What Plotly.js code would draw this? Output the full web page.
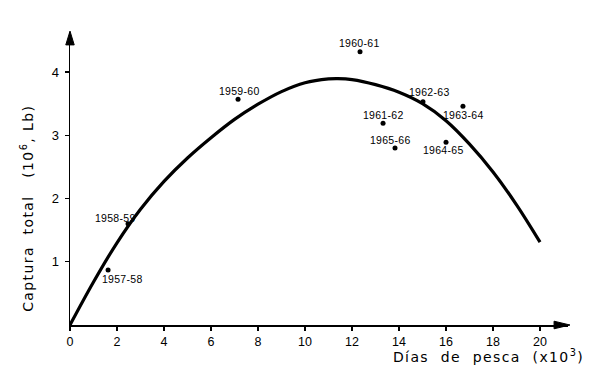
<!DOCTYPE html>
<html>
<head>
<meta charset="utf-8">
<script src="https://cdn.plot.ly/plotly-3.0.1.min.js"></script>
<style>
html,body{margin:0;padding:0;background:#fff;}
#chart{width:600px;height:381px;}
</style>
</head>
<body>
<div id="chart"></div>
<script>
// Observed seasons (fishing days x10^3, total catch 10^6 lb)
const seasons = ["1957-58","1958-59","1959-60","1960-61","1961-62","1962-63","1963-64","1964-65","1965-66"];
const effort  = [1.62, 2.47, 7.15, 12.34, 13.32, 15.02, 16.72, 16.00, 13.83];
const catchLb = [0.87, 1.60, 3.57, 4.32, 3.19, 3.53, 3.46, 2.89, 2.80];

// Fitted curve
const curveX = [0, 1, 2, 3, 4, 5, 6, 7, 8, 9, 10, 11, 11.4, 12, 13, 14, 15, 16, 17, 18, 19, 20];
const curveY = [0, 0.68, 1.30, 1.83, 2.27, 2.64, 2.96, 3.25, 3.49, 3.69, 3.83, 3.89, 3.895, 3.88, 3.80, 3.68, 3.50, 3.23, 2.86, 2.42, 1.90, 1.31];

// Tick values
const xTicks = [0, 2, 4, 6, 8, 10, 12, 14, 16, 18, 20];
const yTicks = [1, 2, 3, 4];

// Label placement offsets in pixels (styling)
const labelDx = [14, -13, 1, -1, 0, 7, 1, -3, -5];
const labelDy = [-9, 6, 8, 9, 8, 10, -9, -8, 8];

const traces = [
  {
    x: curveX, y: curveY, type: 'scatter', mode: 'lines',
    line: {color: '#000', width: 3.2, shape: 'spline', smoothing: 1},
    cliponaxis: false, hoverinfo: 'skip'
  },
  {
    x: effort, y: catchLb, type: 'scatter', mode: 'markers',
    marker: {color: '#000', size: 5},
    cliponaxis: false
  }
];

const annotations = seasons.map((s, i) => ({
  x: effort[i], y: catchLb[i], xref: 'x', yref: 'y',
  text: s, showarrow: false, xanchor: 'center', yanchor: 'middle',
  xshift: labelDx[i], yshift: labelDy[i],
  font: {family: 'Liberation Sans, Arial, sans-serif', size: 10.5, color: '#000'}
}));

annotations.push({
  xref: 'paper', yref: 'paper', x: 0.841, y: -0.105,
  xanchor: 'center', yanchor: 'middle', showarrow: false,
  text: 'Días\u00a0\u00a0de\u00a0\u00a0pesca\u00a0\u00a0(x10<sup>3</sup>)',
  font: {family: 'DejaVu Sans, sans-serif', size: 14, color: '#000'}
});
annotations.push({
  xref: 'paper', yref: 'paper', x: -0.0853, y: 0.399,
  xanchor: 'center', yanchor: 'middle', showarrow: false, textangle: -90,
  text: 'Captura\u00a0\u00a0total\u00a0\u00a0\u00a0(10<sup>6</sup>,\u00a0Lb)',
  font: {family: 'DejaVu Sans, sans-serif', size: 14, color: '#000'}
});

const layout = {
  width: 600, height: 381,
  margin: {l: 70, r: 32, t: 32, b: 56},
  paper_bgcolor: '#fff', plot_bgcolor: '#fff',
  showlegend: false,
  xaxis: {
    range: [0, 21.19], showgrid: false, zeroline: false,
    showline: true, linecolor: '#000', linewidth: 1.5,
    ticks: 'outside', ticklen: 4, tickwidth: 1.2, tickcolor: '#000',
    tickvals: xTicks, ticktext: xTicks.map(String),
    tickfont: {family: 'Liberation Sans, Arial, sans-serif', size: 12.5, color: '#000'}
  },
  yaxis: {
    range: [0, 4.632], showgrid: false, zeroline: false,
    showline: true, linecolor: '#000', linewidth: 1.5,
    ticks: 'outside', ticklen: 4, tickwidth: 1.2, tickcolor: '#000',
    tickvals: yTicks, ticktext: yTicks.map(String),
    tickfont: {family: 'Liberation Sans, Arial, sans-serif', size: 13, color: '#000'},
    ticklabelstandoff: 3
  },
  annotations: annotations,
  shapes: [
    {type: 'path', xref: 'paper', yref: 'paper',
     path: 'M 1.004 0 L 0.972 0.013 L 0.972 -0.013 Z',
     fillcolor: '#000', line: {color: '#000', width: 1}},
    {type: 'path', xref: 'paper', yref: 'paper',
     path: 'M 0 1.003 L 0.0085 0.956 L -0.0085 0.956 Z',
     fillcolor: '#000', line: {color: '#000', width: 1}}
  ]
};

Plotly.newPlot('chart', traces, layout, {staticPlot: true, displayModeBar: false}).then(() => {
  document.querySelectorAll('.annotation-text').forEach(el => {
    const t = el.textContent;
    if (t.indexOf('Días') >= 0 || t.indexOf('Captura') >= 0) {
      el.style.letterSpacing = '1.4px';
    } else {
      el.style.letterSpacing = '0.3px';
    }
  });
});
</script>
</body>
</html>
